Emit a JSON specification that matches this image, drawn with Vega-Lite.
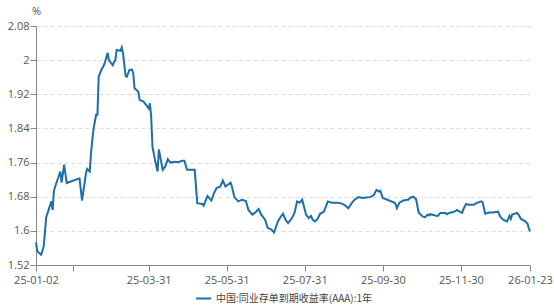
{
  "$schema": "https://vega.github.io/schema/vega-lite/v6.json",
  "width": 494,
  "height": 239,
  "autosize": {"type": "none"},
  "padding": {"left": 36, "top": 26, "right": 24, "bottom": 41},
  "background": "white",
  "config": {"view": {"stroke": null}, "font": "Open Sans"},
  "data": {"values": [
    {"date": "2025-01-02", "value": 1.573},
    {"date": "2025-01-03", "value": 1.552},
    {"date": "2025-01-06", "value": 1.544},
    {"date": "2025-01-08", "value": 1.563},
    {"date": "2025-01-10", "value": 1.632},
    {"date": "2025-01-14", "value": 1.669},
    {"date": "2025-01-15", "value": 1.649},
    {"date": "2025-01-16", "value": 1.694},
    {"date": "2025-01-17", "value": 1.704},
    {"date": "2025-01-21", "value": 1.739},
    {"date": "2025-01-22", "value": 1.713},
    {"date": "2025-01-24", "value": 1.755},
    {"date": "2025-01-26", "value": 1.712},
    {"date": "2025-02-05", "value": 1.723},
    {"date": "2025-02-07", "value": 1.671},
    {"date": "2025-02-10", "value": 1.735},
    {"date": "2025-02-11", "value": 1.745},
    {"date": "2025-02-13", "value": 1.739},
    {"date": "2025-02-14", "value": 1.782},
    {"date": "2025-02-15", "value": 1.813},
    {"date": "2025-02-16", "value": 1.840},
    {"date": "2025-02-18", "value": 1.872},
    {"date": "2025-02-19", "value": 1.872},
    {"date": "2025-02-20", "value": 1.961},
    {"date": "2025-02-22", "value": 1.977},
    {"date": "2025-02-24", "value": 1.988},
    {"date": "2025-02-25", "value": 1.996},
    {"date": "2025-02-27", "value": 2.017},
    {"date": "2025-02-28", "value": 2.000},
    {"date": "2025-03-03", "value": 1.988},
    {"date": "2025-03-04", "value": 1.996},
    {"date": "2025-03-05", "value": 1.999},
    {"date": "2025-03-06", "value": 2.024},
    {"date": "2025-03-09", "value": 2.022},
    {"date": "2025-03-10", "value": 2.030},
    {"date": "2025-03-11", "value": 2.016},
    {"date": "2025-03-13", "value": 1.963},
    {"date": "2025-03-14", "value": 1.961},
    {"date": "2025-03-16", "value": 1.977},
    {"date": "2025-03-18", "value": 1.978},
    {"date": "2025-03-19", "value": 1.969},
    {"date": "2025-03-20", "value": 1.934},
    {"date": "2025-03-23", "value": 1.926},
    {"date": "2025-03-24", "value": 1.907},
    {"date": "2025-03-27", "value": 1.903},
    {"date": "2025-03-29", "value": 1.895},
    {"date": "2025-03-31", "value": 1.887},
    {"date": "2025-04-01", "value": 1.899},
    {"date": "2025-04-02", "value": 1.868},
    {"date": "2025-04-03", "value": 1.797},
    {"date": "2025-04-05", "value": 1.766},
    {"date": "2025-04-07", "value": 1.739},
    {"date": "2025-04-08", "value": 1.791},
    {"date": "2025-04-11", "value": 1.743},
    {"date": "2025-04-13", "value": 1.751},
    {"date": "2025-04-15", "value": 1.768},
    {"date": "2025-04-17", "value": 1.760},
    {"date": "2025-04-21", "value": 1.762},
    {"date": "2025-04-23", "value": 1.761},
    {"date": "2025-04-26", "value": 1.764},
    {"date": "2025-04-28", "value": 1.764},
    {"date": "2025-04-30", "value": 1.743},
    {"date": "2025-05-06", "value": 1.743},
    {"date": "2025-05-08", "value": 1.665},
    {"date": "2025-05-12", "value": 1.663},
    {"date": "2025-05-13", "value": 1.659},
    {"date": "2025-05-16", "value": 1.682},
    {"date": "2025-05-19", "value": 1.671},
    {"date": "2025-05-21", "value": 1.688},
    {"date": "2025-05-23", "value": 1.700},
    {"date": "2025-05-26", "value": 1.704},
    {"date": "2025-05-28", "value": 1.718},
    {"date": "2025-05-30", "value": 1.704},
    {"date": "2025-06-03", "value": 1.713},
    {"date": "2025-06-04", "value": 1.705},
    {"date": "2025-06-06", "value": 1.679},
    {"date": "2025-06-09", "value": 1.669},
    {"date": "2025-06-12", "value": 1.673},
    {"date": "2025-06-15", "value": 1.670},
    {"date": "2025-06-17", "value": 1.649},
    {"date": "2025-06-20", "value": 1.638},
    {"date": "2025-06-22", "value": 1.642},
    {"date": "2025-06-25", "value": 1.651},
    {"date": "2025-06-27", "value": 1.638},
    {"date": "2025-06-30", "value": 1.626},
    {"date": "2025-07-02", "value": 1.607},
    {"date": "2025-07-05", "value": 1.603},
    {"date": "2025-07-07", "value": 1.596},
    {"date": "2025-07-10", "value": 1.622},
    {"date": "2025-07-12", "value": 1.632},
    {"date": "2025-07-14", "value": 1.640},
    {"date": "2025-07-16", "value": 1.626},
    {"date": "2025-07-18", "value": 1.618},
    {"date": "2025-07-21", "value": 1.630},
    {"date": "2025-07-23", "value": 1.642},
    {"date": "2025-07-25", "value": 1.669},
    {"date": "2025-07-27", "value": 1.666},
    {"date": "2025-07-29", "value": 1.673},
    {"date": "2025-08-01", "value": 1.638},
    {"date": "2025-08-03", "value": 1.630},
    {"date": "2025-08-05", "value": 1.635},
    {"date": "2025-08-06", "value": 1.627},
    {"date": "2025-08-08", "value": 1.622},
    {"date": "2025-08-10", "value": 1.628},
    {"date": "2025-08-12", "value": 1.640},
    {"date": "2025-08-15", "value": 1.645},
    {"date": "2025-08-18", "value": 1.669},
    {"date": "2025-08-21", "value": 1.666},
    {"date": "2025-08-25", "value": 1.666},
    {"date": "2025-08-28", "value": 1.665},
    {"date": "2025-08-31", "value": 1.661},
    {"date": "2025-09-03", "value": 1.653},
    {"date": "2025-09-06", "value": 1.666},
    {"date": "2025-09-08", "value": 1.673},
    {"date": "2025-09-11", "value": 1.679},
    {"date": "2025-09-14", "value": 1.677},
    {"date": "2025-09-17", "value": 1.678},
    {"date": "2025-09-20", "value": 1.679},
    {"date": "2025-09-23", "value": 1.684},
    {"date": "2025-09-25", "value": 1.696},
    {"date": "2025-09-27", "value": 1.692},
    {"date": "2025-09-28", "value": 1.694},
    {"date": "2025-09-30", "value": 1.677},
    {"date": "2025-10-09", "value": 1.666},
    {"date": "2025-10-10", "value": 1.663},
    {"date": "2025-10-11", "value": 1.653},
    {"date": "2025-10-13", "value": 1.666},
    {"date": "2025-10-16", "value": 1.671},
    {"date": "2025-10-19", "value": 1.673},
    {"date": "2025-10-20", "value": 1.673},
    {"date": "2025-10-22", "value": 1.679},
    {"date": "2025-10-24", "value": 1.680},
    {"date": "2025-10-26", "value": 1.674},
    {"date": "2025-10-28", "value": 1.643},
    {"date": "2025-10-31", "value": 1.634},
    {"date": "2025-11-02", "value": 1.632},
    {"date": "2025-11-04", "value": 1.638},
    {"date": "2025-11-05", "value": 1.636},
    {"date": "2025-11-06", "value": 1.639},
    {"date": "2025-11-10", "value": 1.636},
    {"date": "2025-11-12", "value": 1.635},
    {"date": "2025-11-14", "value": 1.642},
    {"date": "2025-11-18", "value": 1.642},
    {"date": "2025-11-19", "value": 1.639},
    {"date": "2025-11-21", "value": 1.642},
    {"date": "2025-11-24", "value": 1.644},
    {"date": "2025-11-26", "value": 1.647},
    {"date": "2025-11-27", "value": 1.649},
    {"date": "2025-11-29", "value": 1.645},
    {"date": "2025-12-01", "value": 1.642},
    {"date": "2025-12-02", "value": 1.651},
    {"date": "2025-12-04", "value": 1.663},
    {"date": "2025-12-06", "value": 1.661},
    {"date": "2025-12-10", "value": 1.661},
    {"date": "2025-12-12", "value": 1.665},
    {"date": "2025-12-16", "value": 1.669},
    {"date": "2025-12-17", "value": 1.667},
    {"date": "2025-12-19", "value": 1.640},
    {"date": "2025-12-22", "value": 1.643},
    {"date": "2025-12-25", "value": 1.643},
    {"date": "2025-12-29", "value": 1.645},
    {"date": "2025-12-31", "value": 1.632},
    {"date": "2026-01-02", "value": 1.626},
    {"date": "2026-01-05", "value": 1.622},
    {"date": "2026-01-07", "value": 1.635},
    {"date": "2026-01-08", "value": 1.628},
    {"date": "2026-01-09", "value": 1.638},
    {"date": "2026-01-13", "value": 1.642},
    {"date": "2026-01-14", "value": 1.638},
    {"date": "2026-01-16", "value": 1.628},
    {"date": "2026-01-19", "value": 1.623},
    {"date": "2026-01-21", "value": 1.617},
    {"date": "2026-01-22", "value": 1.607},
    {"date": "2026-01-23", "value": 1.599}
  ]},
  "mark": {"type": "line", "strokeWidth": 2},
  "encoding": {
    "x": {
      "field": "date",
      "type": "temporal",
      "scale": {
        "type": "utc",
        "nice": false,
        "domain": [
          {"year": 2025, "month": 1, "date": 2, "utc": true},
          {"year": 2026, "month": 1, "date": 23, "utc": true}
        ]
      },
      "axis": {
        "title": null,
        "grid": false,
        "values": [
          {"year": 2025, "month": 1, "date": 2, "utc": true},
          {"year": 2025, "month": 1, "date": 31, "utc": true},
          {"year": 2025, "month": 3, "date": 31, "utc": true},
          {"year": 2025, "month": 5, "date": 31, "utc": true},
          {"year": 2025, "month": 7, "date": 31, "utc": true},
          {"year": 2025, "month": 9, "date": 30, "utc": true},
          {"year": 2025, "month": 11, "date": 30, "utc": true},
          {"year": 2026, "month": 1, "date": 23, "utc": true}
        ],
        "labelExpr": "utcFormat(datum.value, '%y-%m-%d') == '25-01-31' ? '' : utcFormat(datum.value, '%y-%m-%d')",
        "labelOverlap": false,
        "labelBound": false,
        "labelFlush": false,
        "domainColor": "#888888",
        "tickColor": "#888888",
        "tickSize": 6,
        "labelPadding": 3,
        "labelColor": "#555555",
        "labelFontSize": 11
      }
    },
    "y": {
      "field": "value",
      "type": "quantitative",
      "scale": {"domain": [1.52, 2.08], "nice": false, "zero": false},
      "axis": {
        "title": "%",
        "titleAngle": 0,
        "titleX": 0,
        "titleY": -10,
        "titleAlign": "center",
        "titleBaseline": "bottom",
        "titleFontWeight": "normal",
        "titleFontSize": 11,
        "titleColor": "#555555",
        "values": [1.52, 1.6, 1.68, 1.76, 1.84, 1.92, 2, 2.08],
        "labelExpr": "format(datum.value, '~g')",
        "grid": true,
        "gridDash": [4, 3],
        "gridColor": "#dddddd",
        "domainColor": "#888888",
        "tickColor": "#888888",
        "tickSize": 6,
        "labelPadding": 1,
        "labelColor": "#555555",
        "labelFontSize": 11
      }
    },
    "color": {
      "datum": "中国:同业存单到期收益率(AAA):1年",
      "type": "nominal",
      "scale": {"range": ["#1d6fa5"]},
      "legend": {
        "title": null,
        "orient": "none",
        "legendX": 159,
        "legendY": 264,
        "symbolType": "stroke",
        "symbolStrokeWidth": 2,
        "symbolSize": 225,
        "labelFont": "Noto Sans CJK SC",
        "labelFontSize": 10,
        "labelColor": "#444444",
        "padding": 0
      }
    }
  }
}
